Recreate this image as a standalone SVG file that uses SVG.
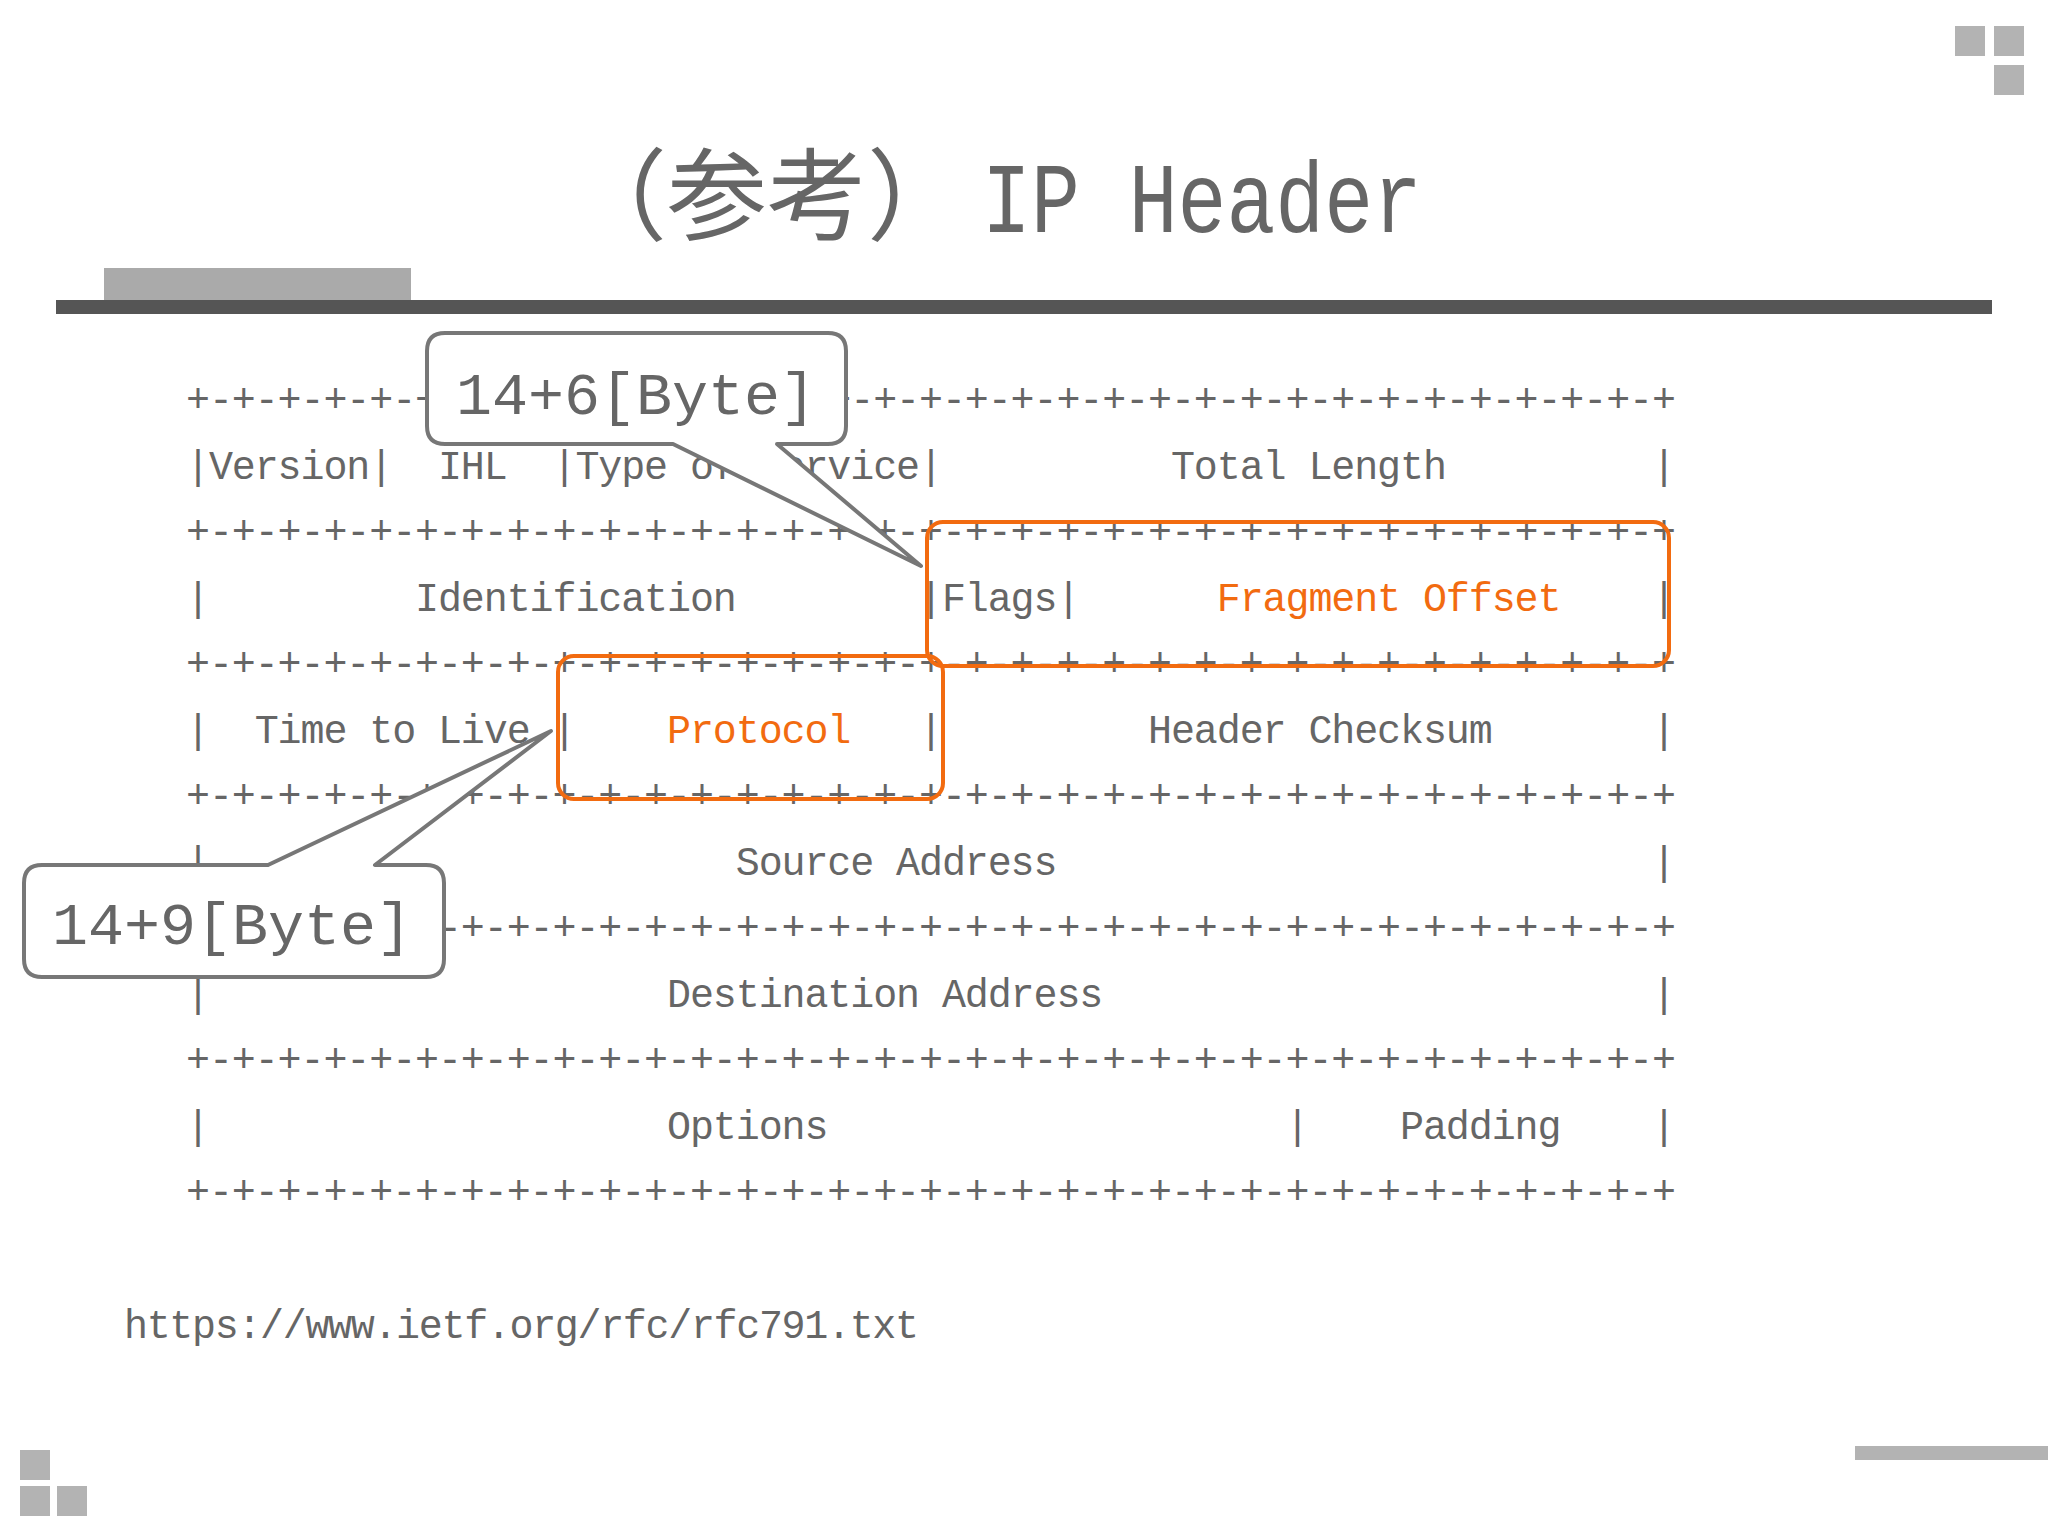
<svg xmlns="http://www.w3.org/2000/svg" width="2048" height="1536" viewBox="0 0 2048 1536">
<style>
.t{font-family:"Liberation Mono","Noto Sans CJK JP",monospace;font-size:40px;fill:#666;white-space:pre}
.o{fill:#f26b10}
.sq{fill:#b3b3b3}
.ob{fill:none;stroke:#f26b10;stroke-width:4}
.cb{fill:#fff;stroke:#777;stroke-width:4;stroke-linejoin:round}
.ct{font-family:"Liberation Mono","Noto Sans CJK JP",monospace;font-size:60px;fill:#666;text-anchor:middle}
</style>
<rect width="2048" height="1536" fill="#fff"/>
<g id="decor">
<rect class="sq" x="1955" y="26" width="30" height="30"/><rect class="sq" x="1994" y="26" width="30" height="30"/><rect class="sq" x="1994" y="65" width="30" height="30"/>
<rect class="sq" x="20" y="1450" width="30" height="30"/><rect class="sq" x="20" y="1486" width="30" height="30"/><rect class="sq" x="57" y="1486" width="30" height="30"/>
<rect class="sq" x="1855" y="1446" width="193" height="14"/>
<rect fill="#aaa" x="104" y="268" width="307" height="33"/>
<rect fill="#555" x="56" y="300" width="1936" height="14"/>
</g>
<g id="title" style="font-family:'Liberation Mono','Noto Sans CJK JP',monospace;font-size:100px;fill:#666">
<text x="567" y="232">（参考）</text>
<text x="982" y="232" textLength="440" lengthAdjust="spacingAndGlyphs">IP Header</text>
</g>
<g id="table">
<text class="t" x="186" y="412" textLength="1490">+-+-+-+-+-+-+-+-+-+-+-+-+-+-+-+-+-+-+-+-+-+-+-+-+-+-+-+-+-+-+-+-+</text>
<text class="t" x="186" y="479" textLength="1490">|Version|  IHL  |Type of Service|          Total Length         |</text>
<text class="t" x="186" y="544" textLength="1490">+-+-+-+-+-+-+-+-+-+-+-+-+-+-+-+-+-+-+-+-+-+-+-+-+-+-+-+-+-+-+-+-+</text>
<text class="t" x="186" y="611" textLength="1490">|         Identification        |Flags|      <tspan class="o">Fragment Offset</tspan>    |</text>
<text class="t" x="186" y="676" textLength="1490">+-+-+-+-+-+-+-+-+-+-+-+-+-+-+-+-+-+-+-+-+-+-+-+-+-+-+-+-+-+-+-+-+</text>
<text class="t" x="186" y="743" textLength="1490">|  Time to Live |    <tspan class="o">Protocol</tspan>   |         Header Checksum       |</text>
<text class="t" x="186" y="808" textLength="1490">+-+-+-+-+-+-+-+-+-+-+-+-+-+-+-+-+-+-+-+-+-+-+-+-+-+-+-+-+-+-+-+-+</text>
<text class="t" x="186" y="875" textLength="1490">|                       Source Address                          |</text>
<text class="t" x="186" y="940" textLength="1490">+-+-+-+-+-+-+-+-+-+-+-+-+-+-+-+-+-+-+-+-+-+-+-+-+-+-+-+-+-+-+-+-+</text>
<text class="t" x="186" y="1007" textLength="1490">|                    Destination Address                        |</text>
<text class="t" x="186" y="1072" textLength="1490">+-+-+-+-+-+-+-+-+-+-+-+-+-+-+-+-+-+-+-+-+-+-+-+-+-+-+-+-+-+-+-+-+</text>
<text class="t" x="186" y="1139" textLength="1490">|                    Options                    |    Padding    |</text>
<text class="t" x="186" y="1204" textLength="1490">+-+-+-+-+-+-+-+-+-+-+-+-+-+-+-+-+-+-+-+-+-+-+-+-+-+-+-+-+-+-+-+-+</text>
</g>
<g id="highlights">
<rect class="ob" x="927" y="522" width="742" height="144" rx="16"/>
<rect class="ob" x="558" y="656" width="385" height="143" rx="16"/>
</g>
<g id="callout1">
<path class="cb" d="M445 333 H828 Q846 333 846 351 V426 Q846 444 828 444 H777 L921 566 L673 444 H445 Q427 444 427 426 V351 Q427 333 445 333 Z"/>
<text class="ct" x="636" y="414">14+6[Byte]</text>
</g>
<g id="callout2">
<path class="cb" d="M42 865 H268 L551 731 L375 865 H426 Q444 865 444 883 V959 Q444 977 426 977 H42 Q24 977 24 959 V883 Q24 865 42 865 Z"/>
<text class="ct" x="232" y="944">14+9[Byte]</text>
</g>
<text id="url" class="t" x="124" y="1338" textLength="795">https://www.ietf.org/rfc/rfc791.txt</text>
</svg>
